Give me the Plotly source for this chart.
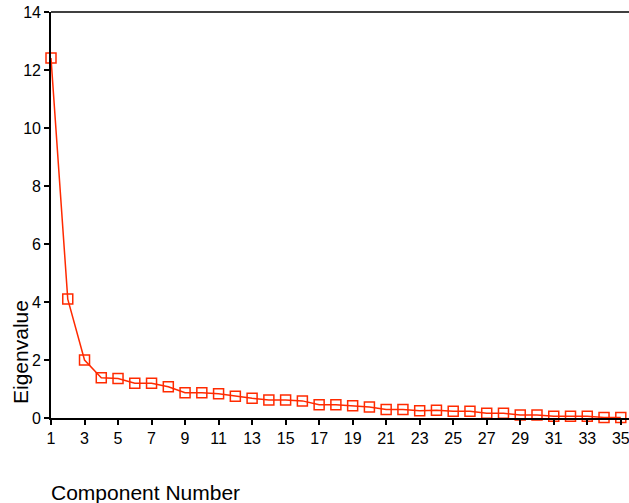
import plotly.graph_objects as go

components = list(range(1, 36))
eigenvalues = [12.41, 4.10, 2.00, 1.39, 1.36, 1.20, 1.20, 1.08, 0.87, 0.87,
               0.84, 0.75, 0.68, 0.62, 0.62, 0.59, 0.46, 0.46, 0.42, 0.38,
               0.29, 0.29, 0.25, 0.27, 0.23, 0.23, 0.16, 0.16, 0.10, 0.10,
               0.06, 0.06, 0.06, 0.02, 0.02]
x_ticks = list(range(1, 36, 2))
y_ticks = list(range(0, 15, 2))

red = "#FF2A00"

fig = go.Figure(go.Scatter(
    x=components, y=eigenvalues, mode="lines+markers",
    line=dict(color=red, width=1.5),
    marker=dict(symbol="square-open", size=10, color=red, line=dict(width=1.5, color=red)),
    cliponaxis=False,
))

font = "Liberation Sans, Arial, sans-serif"
axis_common = dict(showgrid=False, zeroline=False, showline=True, linecolor="black",
                   linewidth=1.6, mirror=False, ticks="outside", ticklen=5,
                   tickcolor="black", tickwidth=1.6, tickfont=dict(size=16),
                   ticklabeloverflow="allow")
fig.update_layout(
    width=629, height=503,
    margin=dict(l=51, r=0, t=12, b=85),
    plot_bgcolor="white", paper_bgcolor="white",
    showlegend=False,
    font=dict(family=font, size=16, color="black"),
    xaxis=dict(range=[1, 35.49], tickvals=x_ticks, **axis_common),
    yaxis=dict(range=[0, 14], tickvals=y_ticks, **axis_common),
    shapes=[dict(type="line", xref="paper", yref="paper", x0=0, x1=1, y0=1, y1=1,
                 line=dict(color="black", width=1.6))],
    annotations=[
        dict(text="Component Number", xref="paper", yref="paper", x=0, xshift=-2, y=0, yshift=-74,
             xanchor="left", yanchor="middle", showarrow=False, font=dict(size=21)),
        dict(text="Eigenvalue", xref="paper", yref="paper", x=0, xshift=-31, y=(418-352)/406,
             xanchor="center", yanchor="middle", textangle=-90, showarrow=False,
             font=dict(size=21)),
    ],
)

fig.write_html(
    "out.html",
    config={"displayModeBar": False},
    post_script="document.body.style.margin='0';document.body.style.overflow='hidden';"
                "document.documentElement.style.overflow='hidden';",
)
